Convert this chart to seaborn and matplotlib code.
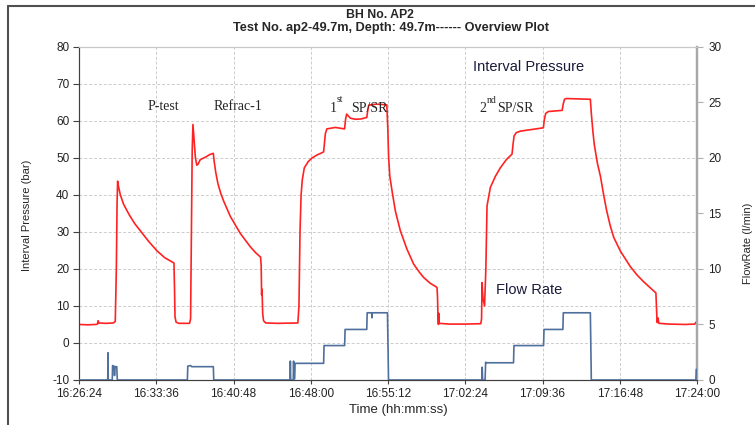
import numpy as np
import pandas as pd
import matplotlib
matplotlib.use("Agg")
import matplotlib.pyplot as plt
import matplotlib.dates as mdates
from matplotlib.lines import Line2D
import seaborn as sns

# ---- data -------------------------------------------------------------
start_clock = "16:26:24"
span_minutes = 57.6
tick_step_minutes = 7.2

# interval pressure (bar) vs elapsed minutes
press_t = [0.0, 0.8, 1.6, 1.72, 1.78, 1.84, 2.5, 3.2, 3.38, 3.48, 3.55, 3.6, 3.7, 3.85,
           4.15, 4.7, 5.2, 5.71, 6.5, 7.26, 8.0, 8.85, 8.9, 8.95, 9.05, 9.3, 10.3, 10.4,
           10.48, 10.55, 10.62, 10.72, 10.85, 10.98, 11.1, 11.3, 11.8, 12.2, 12.52, 12.6,
           12.75, 12.95, 13.2, 13.47, 14.1, 14.5, 15.03, 15.5, 15.96, 16.45, 16.92, 16.98,
           17.02, 17.06, 17.12, 17.2, 17.4, 18.5, 20.4, 20.5, 20.6, 20.7, 20.81, 21.0,
           21.37, 21.74, 22.21, 22.6, 22.8, 22.88, 22.96, 23.1, 23.89, 24.75, 24.85, 24.95,
           25.1, 25.29, 25.76, 26.3, 26.82, 26.9, 27.0, 27.71, 28.69, 28.78, 28.86, 28.97,
           29.18, 29.48, 29.95, 30.57, 31.19, 31.7, 32.12, 32.7, 33.37, 33.42, 33.46, 33.5,
           33.53, 33.57, 34.5, 36.0, 37.45, 37.52, 37.57, 37.65, 37.8, 37.92, 38.03, 38.34,
           38.81, 39.27, 39.83, 40.36, 40.45, 40.55, 40.76, 41.14, 42.07, 43.28, 43.38, 43.5,
           43.75, 45.03, 45.13, 45.25, 45.43, 47.66, 47.75, 47.9, 48.03, 48.32, 48.6, 48.9,
           49.16, 49.5, 49.84, 50.46, 51.39, 52.0, 52.6, 53.2, 53.77, 53.82, 53.86, 53.9,
           53.95, 54.05, 55.0, 56.5, 57.4, 57.5, 57.6]
press_v = [5.0, 4.9, 5.0, 5.1, 6.0, 5.4, 5.3, 5.4, 5.8, 20.0, 38.0, 43.7, 42.0, 40.0,
           37.5, 34.5, 32.2, 30.3, 27.4, 24.9, 23.0, 21.6, 15.0, 7.0, 5.6, 5.3, 5.3, 6.5,
           30.0, 52.0, 59.0, 55.0, 50.0, 48.0, 48.3, 49.5, 50.2, 50.9, 51.2, 49.0,
           46.0, 43.0, 40.5, 38.4, 34.2, 32.2, 29.6, 27.8, 26.0, 24.4, 23.2, 21.0,
           13.0, 14.5, 8.0, 6.0, 5.4, 5.3, 5.4, 10.0, 30.0, 40.0, 44.0, 47.3,
           49.0, 50.0, 50.8, 51.3, 51.6, 54.0, 56.5, 57.8, 58.2, 57.8, 60.5, 61.8,
           61.3, 60.7, 60.4, 60.5, 60.9, 62.5, 64.2, 64.5, 64.3, 58.0, 50.0, 45.0,
           41.0, 35.7, 30.3, 25.3, 21.3, 19.2, 17.7, 16.2, 15.0, 12.0, 7.0, 5.0,
           8.0, 5.3, 5.1, 5.1, 5.2, 6.5, 16.3, 12.0, 10.0, 20.0, 37.0, 42.0,
           45.0, 47.3, 49.5, 51.0, 53.5, 55.9, 56.8, 57.2, 57.6, 58.1, 60.5, 62.0,
           62.5, 62.8, 64.5, 65.8, 66.0, 65.8, 62.0, 57.0, 53.5, 48.5, 45.0, 40.0,
           36.0, 31.8, 28.5, 24.8, 20.6, 18.4, 16.6, 15.0, 13.5, 10.0, 7.0, 5.5,
           6.8, 5.3, 5.1, 5.0, 5.1, 5.6, 5.3]

# flow rate (l/min) vs elapsed minutes
flow_t = [0.0, 2.68, 2.70, 2.73, 3.10, 3.13, 3.26, 3.31, 3.37, 3.52, 3.57,
          10.1, 10.14, 10.4, 10.5, 12.52, 12.56,
          19.67, 19.70, 19.73, 19.97, 20.0, 20.04, 20.1, 20.14, 22.8, 22.84, 24.76, 24.8,
          26.82, 26.86, 27.28, 27.3, 27.34, 28.75, 28.85,
          37.55, 37.58, 37.62, 37.85, 37.9, 38.0, 40.5, 40.54, 43.3, 43.34, 45.1, 45.14,
          47.66, 47.75, 57.5, 57.53, 57.6]
flow_v = [0.0, 0.0, 2.45, 0.0, 0.0, 1.3, 1.25, 0.4, 1.2, 1.2, 0.0,
          0.0, 1.25, 1.3, 1.2, 1.2, 0.0,
          0.0, 1.7, 0.0, 0.0, 1.7, 0.1, 0.1, 1.5, 1.5, 3.1, 3.1, 4.55,
          4.55, 6.05, 6.05, 5.6, 6.05, 6.05, 0.0,
          0.0, 1.15, 0.0, 0.0, 1.6, 1.55, 1.55, 3.1, 3.1, 4.55, 4.55, 6.05,
          6.05, 0.0, 0.0, 0.95, 0.95]

press_ticks = list(range(-10, 81, 10))
flow_ticks = list(range(0, 31, 5))

# ---- frame ------------------------------------------------------------
sns.set_style("ticks")
plt.rcParams["font.family"] = ["Liberation Sans", "DejaVu Sans"]
plt.rcParams["axes.unicode_minus"] = False

W, H = 755, 425
fig = plt.figure(figsize=(W / 100, H / 100), dpi=100)
ax = fig.add_axes([79 / W, 1 - 380 / H, (697 - 79) / W, (380 - 46.7) / H])

t0 = pd.Timestamp("2000-01-01 " + start_clock)
pdf = pd.DataFrame({"time": t0 + pd.to_timedelta(press_t, unit="min"), "p": press_v})
fdf = pd.DataFrame({"time": t0 + pd.to_timedelta(flow_t, unit="min"), "q": flow_v})

sns.lineplot(data=pdf, x="time", y="p", ax=ax, color="#ff2222", lw=1.2,
             estimator=None, sort=False, zorder=3)
ax2 = ax.twinx()
sns.lineplot(data=fdf, x="time", y="q", ax=ax2, color="#4f6f9c", lw=1.2,
             estimator=None, sort=False, zorder=3)

xt = [t0 + pd.Timedelta(minutes=k * tick_step_minutes) for k in range(9)]
ax.set_xlim(t0, t0 + pd.Timedelta(minutes=span_minutes))
ax.set_xticks(xt)
ax.xaxis.set_major_formatter(mdates.DateFormatter("%H:%M:%S"))
ax.set_ylim(-10, 80)
ax.set_yticks(press_ticks)
ax2.set_ylim(0, 30)
ax2.set_yticks(flow_ticks)

ax.grid(True, color="#cccccc", lw=0.7, ls=(0, (3, 2)))
ax.set_axisbelow(True)
ax2.grid(False)

ax.set_xlabel("")
ax.set_ylabel("")
ax2.set_ylabel("")

for a in (ax, ax2):
    a.spines["left"].set_color("#404040")
    a.spines["bottom"].set_color("#404040")
    a.spines["right"].set_color("#a8a8a8")
    a.spines["right"].set_linewidth(1.6)
    a.spines["top"].set_visible(True)
    a.spines["top"].set_color("#c8c8c8")
    a.spines["top"].set_linewidth(0.8)

ax.tick_params(axis="y", direction="out", length=4, width=0.8, color="#404040",
               labelsize=8.5, pad=3, labelcolor="#222222")
ax.tick_params(axis="x", direction="out", length=3, width=0.8, color="#404040",
               labelsize=8.5, pad=3, labelcolor="#222222")
ax2.tick_params(axis="y", direction="out", length=4, width=0.8, color="#b0b0b0",
                labelsize=8.5, pad=4, labelcolor="#222222")

# ---- texts ------------------------------------------------------------
def ftext(x, y, s, **kw):
    fig.text(x / W, 1 - y / H, s, **kw)

ftext(380, 15, "BH No. AP2", ha="center", va="center", fontsize=8.8, weight="bold")
ftext(391, 28.5, "Test No. ap2-49.7m, Depth: 49.7m------ Overview Plot", ha="center",
      va="center", fontsize=9.2, weight="bold")
ftext(398, 410, "Time (hh:mm:ss)", ha="center", va="center", fontsize=9.5)
ftext(27, 215, "Interval Pressure (bar)", ha="center", va="center", rotation=90, fontsize=8)
ftext(748, 243, "FlowRate (l/min)", ha="center", va="center", rotation=90, fontsize=8)

serif = ["Liberation Serif", "DejaVu Serif"]
ftext(163, 106, "P-test", ha="center", va="center", fontsize=10, family=serif)
ftext(238, 106, "Refrac-1", ha="center", va="center", fontsize=10, family=serif)
ftext(333, 108, "1", ha="center", va="center", fontsize=10, family=serif)
ftext(339.5, 100, "st", ha="center", va="center", fontsize=7, family=serif)
ftext(351, 108, "SP/SR", ha="left", va="center", fontsize=10, family=serif)
ftext(483, 108, "2", ha="center", va="center", fontsize=10, family=serif)
ftext(491.5, 100.5, "nd", ha="center", va="center", fontsize=7, family=serif)
ftext(497, 108, "SP/SR", ha="left", va="center", fontsize=10, family=serif)

ftext(529, 66.7, "Interval Pressure", ha="center", va="center", fontsize=10.5, color="#1a1a3a")
ftext(529.5, 290.5, "Flow Rate", ha="center", va="center", fontsize=10.5, color="#1a1a3a")

# outer border
fig.add_artist(Line2D([8 / W, 8 / W], [0, 1 - 6 / H], transform=fig.transFigure,
                      color="#505050", lw=1.5))
fig.add_artist(Line2D([8 / W, 1], [1 - 6 / H, 1 - 6 / H], transform=fig.transFigure,
                      color="#505050", lw=1.5))

fig.savefig("out.png", dpi=100)
